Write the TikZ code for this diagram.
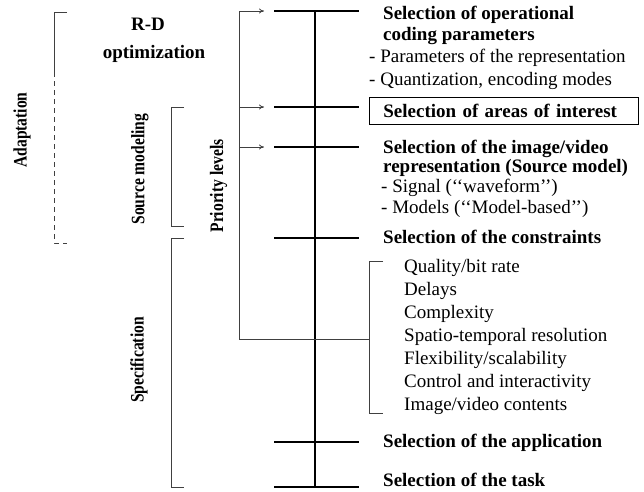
\documentclass[tikz,border=0pt]{standalone}
\usepackage{fontspec}
\setmainfont{Liberation Serif}
\usetikzlibrary{arrows.meta}

\tikzset{
  bar/.style={line width=2.6pt},
  brack/.style={line width=0.8pt, black!75},
  pointer/.style={line width=0.8pt, black!75, -{To[length=5pt,width=5pt]}},
  head/.style={anchor=mid west, inner sep=0pt, font=\fontsize{19}{21}\selectfont\bfseries},
  item/.style={anchor=mid west, inner sep=0pt, font=\fontsize{19}{21}\selectfont},
  side/.style={rotate=90, inner sep=0pt, font=\fontsize{19}{21}\selectfont\bfseries}
}

\begin{document}
\begin{tikzpicture}[x=1pt,y=-1pt]
\useasboundingbox (0,0) rectangle (644,491);

% priority axis with its levels
\foreach \n/\y in {1/11,2/107,3/147,4/238,5/442,6/487}{
  \coordinate (lv\n) at (315,\y);
  \draw[bar] ([xshift=-41pt]lv\n) -- ([xshift=44pt]lv\n);
}
\draw[bar] (lv1) -- (lv6);

% feedback loop
\coordinate (loopbot) at (239,339);
\coordinate (looptop) at (239,11);
\coordinate (cbmid) at (369,339);
\draw[brack] (cbmid) -- (loopbot) -- (looptop);
\draw[pointer] (looptop) -- (264,11);
\draw[pointer] (239,107) -- (264,107);
\draw[pointer] (239,147) -- (264,147);

% brackets
\draw[brack] (67,12) -- (54,12) -- (54,72);
\draw[brack, dash pattern=on 5pt off 4pt] (54,72) -- (54,243) -- (67,243);
\draw[brack] (184,107) -- (171,107) -- (171,226) -- (184,226);
\draw[brack] (184,238) -- (171,238) -- (171,487) -- (184,487);
\draw[brack] (383,261) -- (369,261) -- (369,413) -- (383,413);

% side labels
\node[side] (adapt) at (22,130) {\scalebox{0.82}[1]{Adaptation}};
\node[side] (srcmod) at (140,169) {\scalebox{0.82}[1]{Source modeling}};
\node[side] (prio) at (218.5,186) {\scalebox{0.82}[1]{Priority levels}};
\node[side] (spec) at (139,360) {\scalebox{0.82}[1]{Specification}};
\node[head, anchor=center] (rd) at (148,24) {R-D};
\node[head, anchor=center] (optim) at (154,54) {optimization};

% level texts
\node[head] (opa) at (383,17) {Selection of operational};
\node[head] (opb) at (383,38) {coding parameters};
\node[item] (opc) at (369,60) {- Parameters of the representation};
\node[item] (opd) at (369,83) {- Quantization, encoding modes};
\node[head, draw, line width=0.8pt, anchor=west, inner xsep=14pt, text width=241pt, minimum height=27pt] (aoi) at (369,110.5) {Selection of areas of interest};
\node[head] (repa) at (383,151) {Selection of the image/video};
\node[head] (repb) at (383,170) {representation (Source model)};
\node[item] (repc) at (381,190) {- Signal ({`}{`}waveform{'}{'})};
\node[item] (repd) at (381,211) {- Models ({`}{`}Model-based{'}{'})};
\node[head] (cons) at (383,241) {Selection of the constraints};
\foreach \t [count=\i] in {Quality/bit rate, Delays, Complexity, Spatio-temporal resolution, Flexibility/scalability, Control and interactivity, Image/video contents}
  \node[item] (c\i) at (404,247+\i*23) {\t};
\node[head] (appl) at (383,445) {Selection of the application};
\node[head] (task) at (383,484.5) {Selection of the task};
\end{tikzpicture}
\end{document}
